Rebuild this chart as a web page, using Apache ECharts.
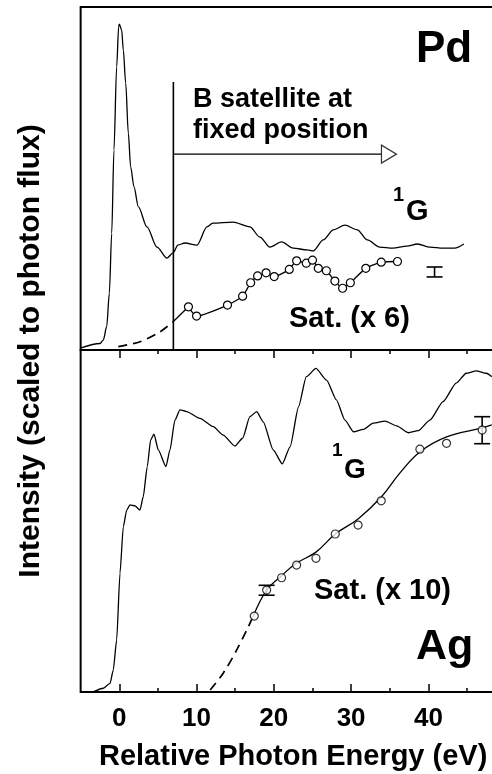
<!DOCTYPE html>
<html>
<head>
<meta charset="utf-8">
<script src="https://cdn.jsdelivr.net/npm/echarts@6/dist/echarts.min.js"></script>
<style>
  html, body { margin: 0; padding: 0; background: #fff; }
  #chart { width: 492px; height: 774px; }
</style>
</head>
<body>
<div id="chart"></div>
<script>
const FONT = '"Liberation Sans", Arial, Helvetica, sans-serif'

// x axis (relative photon energy, eV)
const xMajorTicks = [0, 10, 20, 30, 40]
const xMinorTicks = [5, 15, 25, 35, 45]

// Pd panel, 1G intensity (arb. units)
const pdEnergy = [-4.95, -2.5, -2.07, -1.63, -1.29, -0.98, -0.69, -0.34, -0.08, 0, 0.31, 0.52, 0.83, 1.17, 1.47, 1.9, 2.46, 3.58, 4.88, 6.17, 6.95, 7.59, 8.5, 10.05, 11.35, 12.1, 14.7, 16.9, 18.2, 19.5, 21.0, 22.5, 24.3, 25.1, 26.4, 27.7, 29.2, 30.8, 32.1, 33.7, 35.4, 37.2, 38.6, 40.2, 41.9, 43.4, 44.6]
const pdIntensity = [0.6, 1.9, 2.9, 6.8, 16.5, 34.0, 58.3, 82.6, 94.3, 95, 93.3, 87.5, 77.8, 63.2, 53.4, 47.6, 41.8, 35.9, 30.0, 26.8, 28.3, 30.6, 31.2, 30.6, 35.9, 37.0, 37.3, 35.9, 32.9, 30.0, 31.5, 29.7, 29.2, 28.9, 32.1, 35.0, 36.4, 35.0, 32.1, 30.0, 29.7, 30.3, 30.9, 30.0, 29.7, 29.7, 30.9]

// Pd satellite (x 6)
const pdSatEnergy = [8.95, 10.0, 14.0, 15.96, 17.0, 17.9, 19.0, 20.05, 22.0, 22.95, 24.2, 25.0, 25.75, 26.8, 27.9, 28.9, 29.9, 31.9, 33.9, 36.0]
const pdSatIntensity = [12.6, 9.9, 13.1, 15.7, 19.6, 21.6, 22.5, 21.4, 23.5, 26.0, 25.3, 26.2, 23.8, 23.1, 20.1, 18.0, 19.6, 23.8, 25.6, 25.8]
const pdSatLeadEnergy = [7.0, 8.95]
const pdSatLeadIntensity = [8.3, 12.6]
const pdSatDashEnergy = [-0.13, 2.68, 5.27, 7.0]
const pdSatDashIntensity = [1.0, 2.4, 5.3, 8.3]
const pdErrorBars = [[40.8, 21.3, 24.2]] // energy, low, high

// B satellite marker and arrow
const bMarkerEnergy = [7.0, 7.0]
const bMarkerIntensity = [78.1, 0]
const arrowEnergy = [7.0, 33.9]
const arrowIntensity = [57.1, 57.1]
const arrowHead = [[34.9, 57.1]]

// Ag panel, 1G intensity
const agEnergy = [-3.32, -2.07, -1.2, -0.78, -0.34, 0.09, 0.52, 0.96, 1.38, 2.03, 2.68, 3.1, 3.62, 4.06, 4.49, 5.05, 6.04, 6.56, 7.2, 7.85, 8.72, 10.44, 12.16, 13.45, 14.97, 15.96, 16.9, 17.78, 18.63, 19.92, 21.1, 22.1, 23.2, 24.2, 25.45, 26.83, 28.1, 29.2, 30.3, 31.6, 32.86, 34.4, 35.9, 37.4, 38.7, 40.2, 41.9, 43.6, 44.9, 46.2, 47.5, 48.2]
const agIntensity = [0.1, 1.1, 2.5, 6.4, 15.2, 34.7, 48.3, 53.2, 54.7, 54.4, 53.2, 57.1, 65.9, 73.7, 75.4, 70.8, 65.9, 70.8, 79.5, 82.5, 82.0, 80.0, 77.6, 75.1, 71.9, 74.2, 80.5, 82.0, 79.0, 70.8, 66.7, 71.7, 83.4, 92.2, 94.6, 91.2, 85.4, 79.5, 76.1, 76.8, 78.6, 79.2, 77.8, 75.8, 76.4, 79.5, 84.9, 90.3, 93.2, 93.9, 93.2, 92.2]

// Ag satellite (x 10)
const agSatEnergy = [17.47, 19.07, 21.0, 22.95, 25.45, 27.95, 30.9, 33.9, 38.9, 42.35, 46.96]
const agSatIntensity = [22.2, 29.8, 33.4, 37.1, 39.1, 46.2, 48.8, 55.9, 71.0, 72.7, 76.6]
const agFitEnergy = [17.3, 19.07, 21.0, 22.95, 25.45, 27.95, 30.9, 33.9, 36.3, 38.9, 42.35, 46.96, 48.2]
const agFitIntensity = [22.0, 29.8, 34.0, 37.7, 40.9, 46.2, 50.6, 57.0, 64.0, 70.2, 74.6, 77.2, 78.1]
const agSatDashEnergy = [11.76, 13.45, 15.2, 16.7, 17.3]
const agSatDashIntensity = [0.6, 5.5, 12.3, 19.1, 22.0]
const agErrorBars = [[19.07, 28.3, 31.2], [46.96, 72.6, 80.5]]

const zip = (xs, ys) => xs.map((x, i) => [x, ys[i]])

const chart = echarts.init(document.getElementById('chart'), null, { renderer: 'canvas' })

const plotLeft = 80.65
const plotWidth = 425
const black = '#000'

function errorBar(params, api) {
  const x = api.value(0)
  const lo = api.coord([x, api.value(1)])
  const hi = api.coord([x, api.value(2)])
  const half = 8
  const style = { stroke: black, lineWidth: 1.6 }
  return {
    type: 'group',
    children: [
      { type: 'line', shape: { x1: lo[0], y1: lo[1], x2: hi[0], y2: hi[1] }, style },
      { type: 'line', shape: { x1: lo[0] - half, y1: lo[1], x2: lo[0] + half, y2: lo[1] }, style },
      { type: 'line', shape: { x1: hi[0] - half, y1: hi[1], x2: hi[0] + half, y2: hi[1] }, style },
    ],
  }
}

const xBase = (gridIndex, position, ticks, length, extra) => Object.assign({
  type: 'value',
  gridIndex,
  position,
  min: -5,
  max: 50,
  axisLine: { show: false },
  splitLine: { show: false },
  axisTick: { show: ticks.length > 0, inside: true, length, customValues: ticks, lineStyle: { color: black, width: 1.5 } },
  axisLabel: { show: false },
}, extra)

const yBase = (gridIndex) => ({
  type: 'value', gridIndex, min: 0, max: 100, show: false,
})

const lineSeries = (x, y, data, extra) => Object.assign({
  type: 'line',
  xAxisIndex: x,
  yAxisIndex: y,
  data,
  showSymbol: false,
  silent: true,
  animation: false,
  lineStyle: { color: black, width: 1.3 },
}, extra)

const text = (t, x, y, size, extra) => ({
  type: 'text',
  x, y,
  silent: true,
  style: Object.assign({
    text: t, fill: black, font: `bold ${size}px ${FONT}`,
    align: 'left', verticalAlign: 'middle',
  }, extra),
})

const gridBox = (top, height, show) => ({
  left: plotLeft, width: plotWidth, top, height,
  outerBoundsMode: 'none', containLabel: false,
  show, borderColor: black, borderWidth: 2, backgroundColor: 'transparent',
})

const option = {
  backgroundColor: '#fff',
  animation: false,
  grid: [gridBox(7, 343, true), gridBox(350, 342, true), gridBox(350, 342, false)],
  xAxis: [
    xBase(0, 'bottom', [], 0),
    xBase(1, 'bottom', xMajorTicks, 8, {
      axisLabel: {
        show: true, customValues: xMajorTicks, margin: 14,
        color: black, fontFamily: FONT, fontWeight: 'bold', fontSize: 26,
      },
      name: 'Relative Photon Energy (eV)',
      nameLocation: 'middle',
      nameGap: 50,
      nameTextStyle: { color: black, fontFamily: FONT, fontWeight: 'bold', fontSize: 29 },
    }),
    xBase(1, 'top', xMajorTicks, 8),
    xBase(2, 'bottom', xMinorTicks, 4),
    xBase(2, 'top', xMinorTicks, 4),
  ],
  yAxis: [yBase(0), yBase(1), yBase(2)],
  series: [
    // Pd panel
    lineSeries(0, 0, zip(pdEnergy, pdIntensity), { smooth: 0.3, smoothMonotone: 'x' }),
    lineSeries(0, 0, zip(pdSatDashEnergy, pdSatDashIntensity), { smooth: 0.3, lineStyle: { color: black, width: 1.7, type: [9, 6] } }),
    lineSeries(0, 0, zip(pdSatLeadEnergy, pdSatLeadIntensity)),
    lineSeries(0, 0, zip(pdSatEnergy, pdSatIntensity), {
      showSymbol: true, symbol: 'circle', symbolSize: 8, smooth: 0.2,
      itemStyle: { color: '#fff', borderColor: black, borderWidth: 1.2 },
    }),
    lineSeries(0, 0, zip(bMarkerEnergy, bMarkerIntensity), { lineStyle: { color: black, width: 1.6 } }),
    lineSeries(0, 0, zip(arrowEnergy, arrowIntensity), { lineStyle: { color: black, width: 1.3 } }),
    {
      type: 'scatter', xAxisIndex: 0, yAxisIndex: 0, data: arrowHead, silent: true,
      symbol: 'triangle', symbolSize: [18, 15], symbolRotate: -90,
      itemStyle: { color: '#fff', borderColor: black, borderWidth: 1.3 },
    },
    { type: 'custom', xAxisIndex: 0, yAxisIndex: 0, data: pdErrorBars, renderItem: errorBar, silent: true },

    // Ag panel
    lineSeries(1, 1, zip(agEnergy, agIntensity), { smooth: 0.2, smoothMonotone: 'x' }),
    lineSeries(1, 1, zip(agSatDashEnergy, agSatDashIntensity), { smooth: 0.3, lineStyle: { color: black, width: 1.7, type: [9, 6] } }),
    lineSeries(1, 1, zip(agFitEnergy, agFitIntensity), { smooth: 0.4 }),
    { type: 'custom', xAxisIndex: 1, yAxisIndex: 1, data: agErrorBars, renderItem: errorBar, silent: true },
    {
      type: 'scatter', xAxisIndex: 1, yAxisIndex: 1, data: zip(agSatEnergy, agSatIntensity), silent: true,
      symbol: 'circle', symbolSize: 8, z: 5,
      itemStyle: { color: '#fff', borderColor: black, borderWidth: 1.2 },
    },
  ],
  graphic: [
    text('Intensity (scaled to photon flux)', 31, 351, 30, { align: 'center' }),
    text('Pd', 416, 50, 44),
    text('B satellite at', 193, 100, 27),
    text('fixed position', 193, 131, 27),
    text('1', 393, 195, 20),
    text('G', 406, 212, 29),
    text('Sat. (x 6)', 289, 319, 29),
    text('1', 332, 451, 19),
    text('G', 344, 470, 28),
    text('Sat. (x 10)', 314, 591, 29),
    text('Ag', 416, 647, 43),
  ],
}

// rotate the y axis title
option.graphic[0].rotation = Math.PI / 2

chart.setOption(option)
</script>
</body>
</html>
